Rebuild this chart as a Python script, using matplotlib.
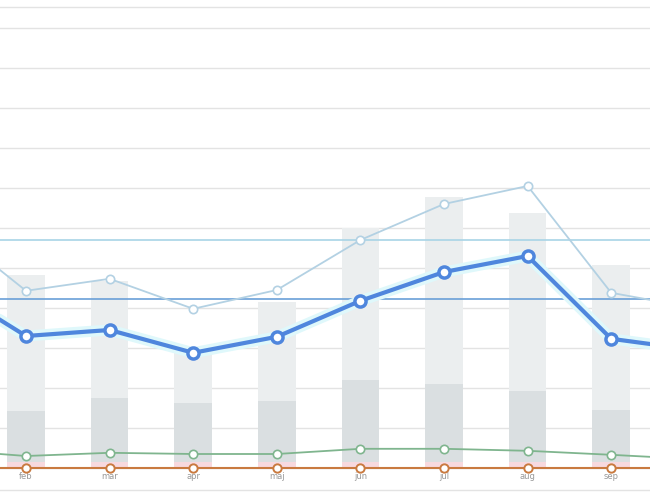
import numpy as np
import matplotlib.pyplot as plt

months = ['jan', 'feb', 'mar', 'apr', 'maj', 'jun', 'jul', 'aug', 'sep', 'okt']
bar_total = [np.nan, 4.83, 4.68, 2.95, 4.15, 6.0, 6.78, 6.38, 5.08, np.nan]
bar_part = [np.nan, 1.43, 1.75, 1.63, 1.68, 2.2, 2.1, 1.93, 1.45, np.nan]
bar_small = [np.nan, 0.15, 0.15, 0.15, 0.15, 0.15, 0.15, 0.15, 0.15, np.nan]
thin_line = [6.1, 4.43, 4.73, 3.98, 4.45, 5.7, 6.6, 7.05, 4.38, 4.0]
main_line = [4.6, 3.3, 3.45, 2.88, 3.28, 4.18, 4.9, 5.3, 3.23, 2.95]
green_line = [0.46, 0.3, 0.38, 0.35, 0.35, 0.48, 0.48, 0.43, 0.33, 0.22]
orange_line = [0] * 10
ref_light = 5.7
ref_dark = 4.23

x = np.arange(len(months))
fig = plt.figure(figsize=(6.5, 5), dpi=100)
ax = fig.add_axes([0, 0, 1, 1])

for g in list(range(0, 12)) + [11.53, -0.55]:
    ax.axhline(g, color='#e3e3e3', lw=1, zorder=0)

w = 0.45
ax.bar(x, bar_total, w, color='#ebeeef', zorder=1)
ax.bar(x, bar_part, w, color='#dadfe1', zorder=2)
ax.bar(x, bar_small, w, color='#f7d9df', zorder=2)

ax.axhline(ref_light, color='#a8d4e6', lw=1.2, zorder=3)
ax.axhline(ref_dark, color='#6a9fd8', lw=1.2, zorder=3)

ax.plot(x, thin_line, color='#b3d1e3', lw=1.3, marker='o', ms=6,
        mfc='white', mec='#b3d1e3', mew=1.2, zorder=4)
ax.plot(x, green_line, color='#7fb58e', lw=1.3, marker='o', ms=6,
        mfc='white', mec='#7fb58e', mew=1.2, zorder=4)
ax.plot(x, orange_line, color='#c97a40', lw=1.5, marker='o', ms=6,
        mfc='white', mec='#c97a40', mew=1.4, zorder=4)
ax.plot(x, main_line, color='#dff8fb', lw=8, zorder=4, solid_capstyle='round')
ax.plot(x, main_line, color='#4f86dd', lw=3, marker='o', ms=8,
        mfc='white', mec='#4f86dd', mew=2.5, zorder=5)

for i in range(1, 9):
    ax.text(x[i], -0.22, months[i], ha='center', va='center', fontsize=6, color='#999999')

ax.set_xlim(0.689, 8.464)
ax.set_ylim(-0.8, 11.7)
ax.axis('off')
fig.savefig('out.png', dpi=100)
